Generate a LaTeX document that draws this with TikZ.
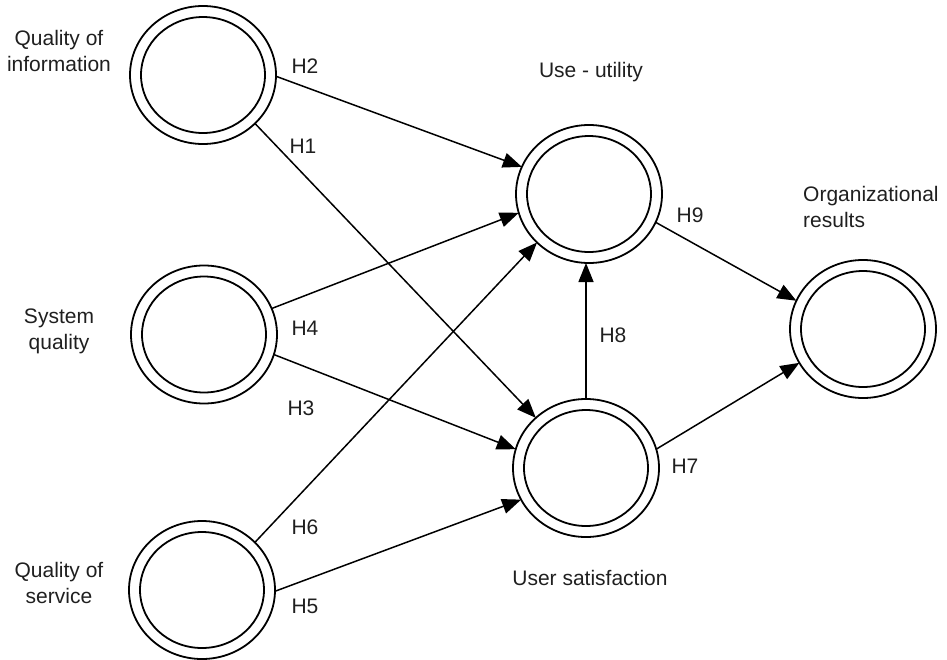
\documentclass[tikz,border=0pt]{standalone}
\usepackage{fontspec}
\setmainfont{Liberation Sans}
\usetikzlibrary{shapes.geometric,arrows.meta}
\begin{document}
\begin{tikzpicture}[x=1pt,y=-1pt,
  circ/.style={ellipse,draw,line width=1.8pt,minimum width=146pt,minimum height=138pt,inner sep=0pt,outer sep=0pt,
    path picture={\draw[line width=1.8pt] (path picture bounding box.center) ellipse [x radius=62pt,y radius=58pt];}},
  lbl/.style={font=\fontsize{21}{26}\selectfont,inner sep=0pt,align=center,text=black!88},
  hyp/.style={font=\fontsize{21}{24}\selectfont,inner sep=0pt,anchor=base,text=black!88},
  arr/.style={line width=1.5pt,-{Triangle[length=19pt,width=15pt]}}]
\useasboundingbox (0,0) rectangle (947,659);
\node[circ] (qi) at (203,75) {};
\node[circ] (sq) at (204,334.5) {};
\node[circ] (qs) at (202,590) {};
\node[circ] (uu) at (589,194) {};
\node[circ] (us) at (586,468) {};
\node[circ] (or) at (863,329) {};
\draw[arr] (qi.-1.5) -- (uu.158.8);
\draw[arr] (qi.-43.9) -- (us.135.6);
\draw[arr] (sq.21) -- (uu.195.8);
\draw[arr] (sq.-16.8) -- (us.165.4);
\draw[arr] (qs.42.2) -- (uu.223.4);
\draw[arr] (qs.-1.6) -- (us.206.9);
\draw[arr] (us.north) -- (us.north |- uu.south);
\draw[arr] (uu.-23.4) -- (or.157.8);
\draw[arr] (us.15) -- (or.-152.7);
\node[lbl] (tqi) at (59,50.5) {Quality of\\information};
\node[lbl] (tsq) at (59,331.5) {System\\quality};
\node[lbl] (tqs) at (59,582.5) {Quality of\\service};
\node[hyp] (tuu) at (591,77) {Use - utility};
\node[hyp] (tus) at (590,585) {User satisfaction};
\node[lbl,align=left,anchor=west] (tor) at (803,207) {Organizational\\results};
\node[hyp] (h2) at (305,73) {H2};
\node[hyp] (h1) at (303,153) {H1};
\node[hyp] (h4) at (305,335) {H4};
\node[hyp] (h3) at (301,415) {H3};
\node[hyp] (h6) at (305,534) {H6};
\node[hyp] (h5) at (305,613) {H5};
\node[hyp] (h8) at (613,342) {H8};
\node[hyp] (h7) at (685,473) {H7};
\node[hyp] (h9) at (690,222) {H9};
\end{tikzpicture}
\end{document}
